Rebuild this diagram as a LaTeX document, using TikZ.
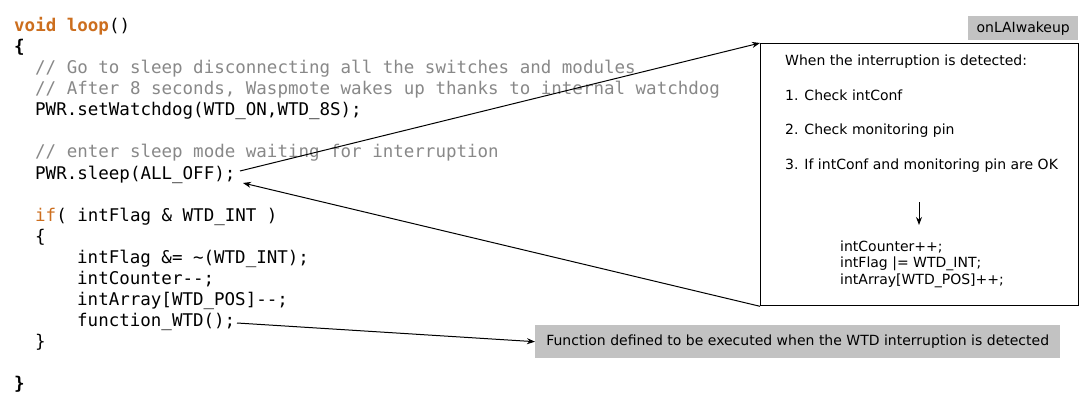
\documentclass[tikz,border=0pt]{standalone}
\usepackage{fontspec}
\setmainfont{DejaVu Sans}
\newfontfamily\codefont{DejaVu Sans Mono}
\usetikzlibrary{arrows.meta}
\definecolor{kw}{RGB}{204,110,30}
\definecolor{cmt}{RGB}{136,136,136}
\definecolor{lbl}{RGB}{194,194,194}
\tikzset{
  code/.style={anchor=base west, inner sep=0pt, font=\codefont\fontsize{17.5}{21}\selectfont},
  txt/.style={anchor=base west, inner sep=0pt, font=\fontsize{14}{16}\selectfont},
  conn/.style={line width=1pt, -{Stealth[length=8pt,width=6pt]}},
  graybox/.style={fill=lbl, inner sep=0pt, font=\fontsize{14}{16}\selectfont, anchor=north west}
}
\begin{document}
\begin{tikzpicture}[x=1pt,y=-1pt]
\useasboundingbox (0,0) rectangle (1090,409);
% code
\node[code] (l1) at (14,32) {\textcolor{kw}{\bfseries void loop}()};
\node[code] (l2) at (14,53) {\bfseries\{};
\node[code,text=cmt] (l3) at (35,74) {// Go to sleep disconnecting all the switches and modules};
\node[code,text=cmt] (l4) at (35,95) {// After 8 seconds, Waspmote wakes up thanks to internal watchdog};
\node[code] (l5) at (35,116) {PWR.setWatchdog(WTD\_ON,WTD\_8S);};
\node[code,text=cmt] (l6) at (35,158) {// enter sleep mode waiting for interruption};
\node[code] (sleep) at (35,179) {PWR.sleep(ALL\_OFF);};
\node[code] (l8) at (35,221) {\textcolor{kw}{if}( intFlag \& WTD\_INT )};
\node[code] (l9) at (35,242) {\{};
\node[code] (l10) at (77,263) {intFlag \&= \textasciitilde(WTD\_INT);};
\node[code] (l11) at (77,284) {intCounter-{}-;};
\node[code] (l12) at (77,305) {intArray[WTD\_POS]-{}-;};
\node[code] (fwtd) at (77,326) {function\_WTD();};
\node[code] (l14) at (35,347) {\}};
\node[code] (l15) at (14,389) {\bfseries\}};
% box
\node[draw, line width=1.3pt, minimum width=318pt, minimum height=262pt, inner sep=0pt, anchor=north west] (box) at (760,43) {};
\node[graybox, minimum width=110pt, minimum height=24pt] (wake) at (968,16) {onLAIwakeup};
\node[txt] (b1) at (785,66) {When the interruption is detected:};
\node[txt] (b2) at (785,101) {1. Check intConf};
\node[txt] (b3) at (785,135) {2. Check monitoring pin};
\node[txt] (b4) at (785,170) {3. If intConf and monitoring pin are OK};
\node[txt] (b5) at (840,251) {intCounter++;};
\node[txt] (b6) at (840,267) {intFlag |= WTD\_INT;};
\node[txt] (b7) at (840,284) {intArray[WTD\_POS]++;};
\coordinate (d1) at (919,202);
\coordinate (d2) at (919,225);
\draw[conn] (d1) -- (d2);
% bottom label
\node[graybox, minimum width=525pt, minimum height=33pt] (fbox) at (535,325) {Function defined to be executed when the WTD interruption is detected};
% connectors
\coordinate (s1) at (240,171);
\coordinate (s2) at (243,183);
\coordinate (f1) at (237,323);
\draw[conn] (s1) -- (box.north west);
\draw[conn] (box.south west) -- (s2);
\draw[conn] (f1) -- (fbox.west);
\end{tikzpicture}
\end{document}
